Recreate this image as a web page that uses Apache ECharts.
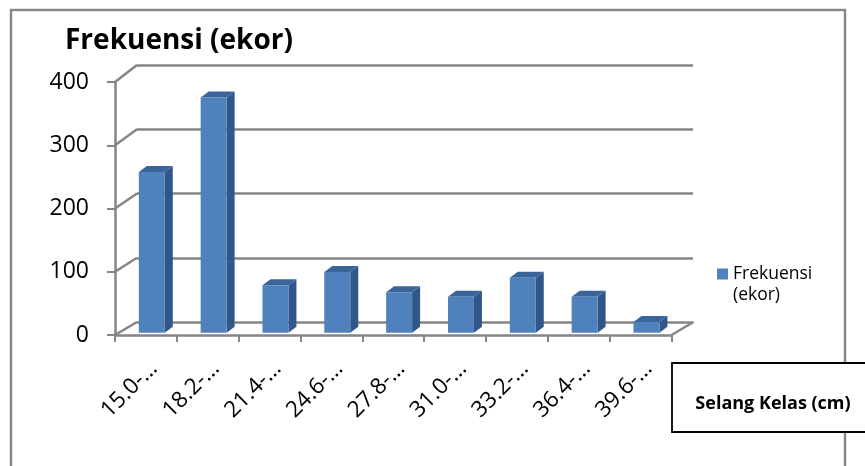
<!DOCTYPE html>
<html><head><meta charset="utf-8">
<script src="https://cdn.jsdelivr.net/npm/echarts@6/dist/echarts.min.js"></script>
<style>html,body{margin:0;padding:0;background:#fff}#c{width:865px;height:466px}</style>
</head><body><div id="c"></div>
<script>
// ---- data ----
const categories = ['15.0-…','18.2-…','21.4-…','24.6-…','27.8-…','31.0-…','33.2-…','36.4-…','39.6-…'];
const frekuensi = [254, 372, 75, 96, 64, 57, 87, 57, 17];
const yTicks = [0, 100, 200, 300, 400];
const seriesName = 'Frekuensi (ekor)';
const legendLines = ['Frekuensi', '(ekor)'];
const yAxisTitle = 'Frekuensi (ekor)';
const xAxisTitle = 'Selang Kelas (cm)';

// ---- layout / style ----
const FONT = 'Open Sans';
const GRID_COLOR = '#858585';
const FRONT = {left: 115, top: 82, width: 556.5, height: 253};
const BACK = {left: 137, top: 65, width: 556, height: 257};
const DX = BACK.left - FRONT.left;
const YMAX = 400;
function backY(v){ return BACK.top + BACK.height * (1 - v / YMAX); }

const chart = echarts.init(document.getElementById('c'), null, {renderer: 'canvas'});

const option = {
  backgroundColor: '#fff',
  animation: false,
  title: {
    text: yAxisTitle, left: 65, top: 27, padding: 0,
    textStyle: {fontFamily: FONT, fontSize: 28, fontWeight: 'bold', color: '#000'}
  },
  legend: {
    data: [seriesName], left: 717, top: 261, padding: 0, icon: 'rect', itemWidth: 11, itemHeight: 11,
    formatter: () => legendLines[0],
    textStyle: {fontFamily: FONT, fontSize: 17.5, lineHeight: 26, color: '#000'}
  },
  grid: [
    Object.assign({}, FRONT),
    Object.assign({}, BACK),
    {left: FRONT.left + 8, top: FRONT.top, width: FRONT.width, height: FRONT.height}
  ],
  xAxis: [
    {gridIndex: 0, type: 'category', data: categories, boundaryGap: true,
     axisLine: {lineStyle: {color: GRID_COLOR, width: 2.5}},
     axisTick: {show: true, interval: 0, length: 7, lineStyle: {color: GRID_COLOR, width: 2}},
     axisLabel: {show: false}, splitLine: {show: false}},
    {gridIndex: 1, type: 'category', data: categories, show: false},
    {gridIndex: 2, type: 'category', data: categories,
     axisLine: {show: false}, axisTick: {show: false},
     axisLabel: {interval: 0, rotate: 45, margin: 30, fontFamily: FONT, fontSize: 22.5, color: '#000'}}
  ],
  yAxis: [
    {gridIndex: 0, type: 'value', min: 0, max: YMAX, interval: 100,
     axisLine: {show: true, lineStyle: {color: GRID_COLOR, width: 2.5}},
     axisTick: {show: true, length: 8, lineStyle: {color: GRID_COLOR, width: 2}},
     axisLabel: {margin: 26, fontFamily: FONT, fontSize: 23, color: '#000'},
     splitLine: {show: false}},
    {gridIndex: 1, type: 'value', min: 0, max: YMAX, interval: 100,
     axisLine: {show: false}, axisTick: {show: false}, axisLabel: {show: false},
     splitLine: {show: true, lineStyle: {color: GRID_COLOR, width: 2.5}}},
    {gridIndex: 2, type: 'value', min: 0, max: YMAX, show: false}
  ],
  graphic: [
    {type: 'rect', shape: {x: 11, y: 10, width: 834, height: 480}, style: {fill: 'none', stroke: '#888', lineWidth: 2.5}, z: -1},
    {type: 'rect', shape: {x: 672, y: 363, width: 210, height: 69}, style: {fill: '#fff', stroke: '#000', lineWidth: 1.8}},
    {type: 'text', x: 773, y: 404, style: {text: xAxisTitle, fontFamily: FONT, fontSize: 18, fontWeight: 'bold', fill: '#000', align: 'center', verticalAlign: 'middle'}},
    {type: 'text', x: 733, y: 295, style: {text: legendLines[1], fontFamily: FONT, fontSize: 17.5, fill: '#000', align: 'left', verticalAlign: 'middle'}}
  ],
  series: [
    {
      type: 'custom', name: 'walls', xAxisIndex: 0, yAxisIndex: 0, silent: true, z: 1,
      data: yTicks.map(v => [0, v]),
      renderItem: function(params, api){
        const v = api.value(1);
        const y = api.coord([0, v])[1];
        const cs = params.coordSys;
        const ls = {stroke: GRID_COLOR, lineWidth: 2.5};
        const ch = [{type: 'line', shape: {x1: cs.x, y1: y, x2: cs.x + DX, y2: backY(v)}, style: ls}];
        if (v === 0) {
          ch.push({type: 'line', shape: {x1: cs.x + cs.width, y1: y, x2: cs.x + cs.width + DX, y2: backY(0)}, style: ls});
        }
        return {type: 'group', children: ch};
      }
    },
    {
      type: 'custom', name: seriesName, xAxisIndex: 0, yAxisIndex: 0, z: 3,
      itemStyle: {color: '#4F81BD'},
      data: frekuensi.map((v, i) => [i, v]),
      renderItem: function(params, api){
        const i = api.value(0), v = api.value(1);
        const base = api.coord([i, 0]), top = api.coord([i, v]);
        const band = api.size([1, 0])[0];
        const w = band * 0.42, sh = band * 0.095;
        const xL = base[0] + sh - w / 2, xR = xL + w;
        const yB = base[1] - 2.3, yT = top[1] - 2.3;
        const dx = 8, dy = -6;
        return {type: 'group', children: [
          {type: 'polygon', shape: {points: [[xR, yT], [xR + dx, yT + dy], [xR + dx, yB + dy], [xR, yB]]}, style: {fill: '#30568A'}},
          {type: 'polygon', shape: {points: [[xL, yT], [xL + dx, yT + dy], [xR + dx, yT + dy], [xR, yT]]}, style: {fill: '#3B6599'}},
          {type: 'rect', shape: {x: xL, y: yT, width: w, height: yB - yT}, style: {fill: '#4F81BD'}}
        ]};
      }
    }
  ]
};
chart.setOption(option);
</script>
</body></html>
